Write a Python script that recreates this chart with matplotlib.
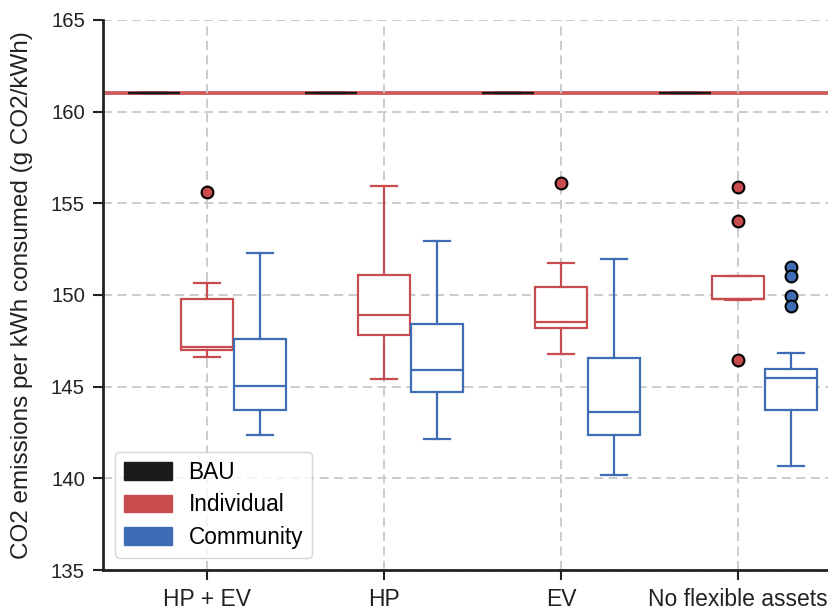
import matplotlib
matplotlib.use("Agg")
import matplotlib.pyplot as plt
from matplotlib.patches import Patch

# categories and groups
categories = ["HP + EV", "HP", "EV", "No flexible assets"]
groups = ["BAU", "Individual", "Community"]
colors = {"BAU": "#1a1a1a", "Individual": "#c84b4d", "Community": "#3e6db5"}

# box statistics (g CO2/kWh)
bau_level = 161.0

ind_whislo = [146.6, 145.4, 146.8, 149.75]
ind_q1 = [147.0, 147.8, 148.2, 149.8]
ind_med = [147.15, 148.9, 148.5, 149.8]
ind_q3 = [149.8, 151.1, 150.45, 151.05]
ind_whishi = [150.65, 155.95, 151.75, 151.05]
ind_fliers = [[155.6], [], [156.1], [155.9, 154.05, 146.45]]

com_whislo = [142.35, 142.15, 140.2, 140.65]
com_q1 = [143.7, 144.7, 142.35, 143.7]
com_med = [145.05, 145.9, 143.6, 145.45]
com_q3 = [147.6, 148.4, 146.55, 145.95]
com_whishi = [152.3, 152.95, 151.95, 146.85]
com_fliers = [[], [], [], [151.5, 151.05, 149.95, 149.4]]


def make_stats(whislo, q1, med, q3, whishi, fliers):
    stats = []
    for i in range(len(med)):
        stats.append({"whislo": whislo[i], "q1": q1[i], "med": med[i],
                      "q3": q3[i], "whishi": whishi[i], "fliers": fliers[i]})
    return stats


n = len(categories)
bau_stats = make_stats([bau_level] * n, [bau_level] * n, [bau_level] * n,
                       [bau_level] * n, [bau_level] * n, [[]] * n)
ind_stats = make_stats(ind_whislo, ind_q1, ind_med, ind_q3, ind_whishi, ind_fliers)
com_stats = make_stats(com_whislo, com_q1, com_med, com_q3, com_whishi, com_fliers)

plt.rcParams["font.family"] = ["Liberation Sans", "DejaVu Sans"]

fig = plt.figure(figsize=(8.29, 6.11), dpi=100)
ax = fig.add_axes([0.1243, 0.0671, 0.8757, 0.9002])

ax.grid(True, color="#c8c8c8", linestyle=(0, (5, 3)), linewidth=1.3, zorder=0)
ax.axhline(bau_level, color=colors["Individual"], linewidth=2.8, alpha=0.9, zorder=1)

width = 0.3
offsets = [-width, 0.0, width]
for grp, stats, off in zip(groups, [bau_stats, ind_stats, com_stats], offsets):
    c = colors[grp]
    pos = [i + off for i in range(n)]
    ax.bxp(stats, positions=pos, widths=width * 0.98, patch_artist=True,
           manage_ticks=False, zorder=3,
           boxprops=dict(facecolor="white", edgecolor=c, linewidth=1.6),
           medianprops=dict(color=c, linewidth=1.6),
           whiskerprops=dict(color=c, linewidth=1.6),
           capprops=dict(color=c, linewidth=1.6),
           flierprops=dict(marker="o", markerfacecolor=c, markeredgecolor="black",
                           markersize=8.5, markeredgewidth=1.5))

ax.set_xticks(range(n))
ax.set_xticklabels(categories)
ax.set_xlim(-0.588, 3.514)
ax.set_ylim(135, 165)
ax.set_yticks([135, 140, 145, 150, 155, 160, 165])
ax.set_ylabel("CO2 emissions per kWh consumed (g CO2/kWh)", fontsize=17.5, color="#222222")
ax.yaxis.set_label_coords(-0.096, 0.5)
ax.tick_params(axis="both", length=7, width=1.5, colors="#222222", pad=6)
ax.tick_params(axis="x", labelsize=16.5)
ax.tick_params(axis="y", labelsize=14.7)

for side in ["top", "right"]:
    ax.spines[side].set_visible(False)
for side in ["left", "bottom"]:
    ax.spines[side].set_linewidth(2)
    ax.spines[side].set_color("#222222")

handles = [Patch(facecolor=colors[g], edgecolor=colors[g], label=g) for g in groups]
ax.legend(handles=handles, loc="lower left", fontsize=16.3, frameon=True,
          edgecolor="#cccccc", fancybox=True, handlelength=2.1, handleheight=0.8,
          borderpad=0.4, labelspacing=0.42, handletextpad=0.75, borderaxespad=0,
          bbox_to_anchor=(0.0165, 0.022))

fig.savefig("out.png", dpi=100)
